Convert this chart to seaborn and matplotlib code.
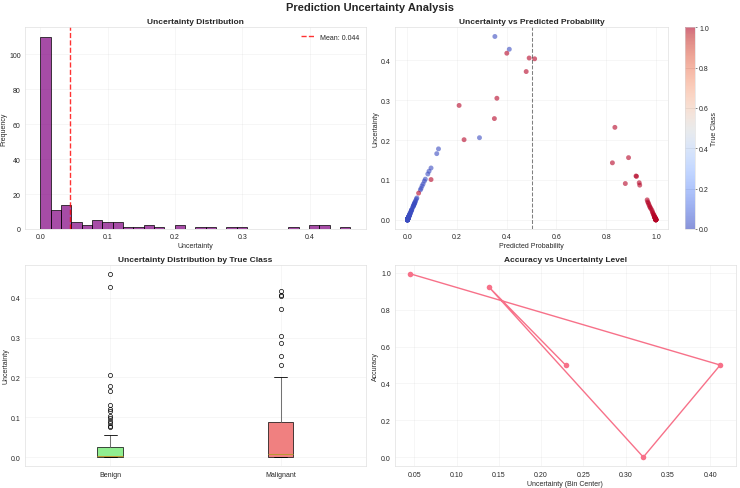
import numpy as np
import pandas as pd
import matplotlib
matplotlib.use("Agg")
import matplotlib.pyplot as plt
import seaborn as sns

# ---------------- data ----------------
benign_prob = [0.352, 0.410, 0.290, 0.125, 0.118, 0.095, 0.087, 0.082, 0.072, 0.068,
               0.063, 0.059, 0.055, 0.052,
               0.038, 0.036, 0.033,
               0.031, 0.030, 0.028, 0.028, 0.026, 0.025, 0.024, 0.023, 0.021,
               0.018, 0.017, 0.016, 0.015, 0.014, 0.012, 0.011,
               0.0103, 0.0097, 0.0090, 0.0083, 0.0076, 0.0069, 0.0069, 0.0062, 0.0055, 0.0055,
               0.0048, 0.0048, 0.0041, 0.0041, 0.0034, 0.0034, 0.0034, 0.0028, 0.0028, 0.0028,
               0.0024,
               0.0021, 0.0021, 0.0019, 0.0017, 0.0015, 0.0014, 0.0014, 0.0012, 0.0011, 0.0010,
               0.0010, 0.0008, 0.0008, 0.0007, 0.0007, 0.0006, 0.0006, 0.0006, 0.0005, 0.0005,
               0.0004, 0.0004, 0.0003, 0.0003, 0.0003, 0.0003, 0.0003, 0.0003, 0.0002, 0.0002,
               0.0002, 0.0001, 0.0001, 0.0001, 0.0001, 0.0001, 0.0001, 0.0001, 0.0001, 0.0001,
               0.0001, 0.0, 0.0, 0.0, 0.0, 0.0, 0.0, 0.0, 0.0, 0.0, 0.0, 0.0, 0.0]
benign_unc = [0.460, 0.428, 0.206, 0.178, 0.166, 0.130, 0.122, 0.115, 0.102, 0.097,
              0.090, 0.085, 0.079, 0.075,
              0.055, 0.052, 0.048,
              0.045, 0.043, 0.041, 0.040, 0.038, 0.036, 0.035, 0.033, 0.031,
              0.026, 0.025, 0.024, 0.022, 0.020, 0.018, 0.016,
              0.015, 0.014, 0.013, 0.012, 0.011, 0.010, 0.010, 0.009, 0.008, 0.008,
              0.007, 0.007, 0.006, 0.006, 0.005, 0.005, 0.005, 0.004, 0.004, 0.004,
              0.0035,
              0.003, 0.003, 0.0028, 0.0025, 0.0022, 0.002, 0.002, 0.0018, 0.0016, 0.0015,
              0.0014, 0.0012, 0.0011, 0.001, 0.001, 0.0009, 0.0008, 0.0008, 0.0007, 0.0007,
              0.0006, 0.0006, 0.0005, 0.0005, 0.0005, 0.0004, 0.0004, 0.0004, 0.0003, 0.0003,
              0.0003, 0.0002, 0.0002, 0.0002, 0.0002, 0.0001, 0.0001, 0.0001, 0.0001, 0.0001,
              0.0001, 0.0, 0.0, 0.0, 0.0, 0.0, 0.0, 0.0, 0.0, 0.0, 0.0, 0.0, 0.0]
malignant_prob = [0.400, 0.490, 0.512, 0.478, 0.360, 0.208, 0.350, 0.835, 0.228, 0.890,
                  0.825, 0.920, 0.922, 0.095, 0.933, 0.877, 0.935, 0.045,
                  0.965, 0.967, 0.970, 0.972, 0.975, 0.977, 0.980, 0.984, 0.986, 0.988,
                  0.990, 0.992, 0.993, 0.994, 0.995, 0.996,
                  0.9967, 0.9967, 0.9973, 0.9973, 0.9973, 0.998, 0.998, 0.998, 0.9987, 0.9987,
                  0.9987, 0.9987, 0.9993, 0.9993, 0.9993, 0.9993, 0.9993, 0.9995, 0.9996, 0.9997,
                  0.9997, 0.9998, 0.9999, 0.9999, 0.9999, 0.9999, 1.0, 1.0, 1.0, 1.0]
malignant_unc = [0.418, 0.406, 0.404, 0.372, 0.305, 0.287, 0.254, 0.232, 0.201, 0.156,
                 0.143, 0.110, 0.109, 0.101, 0.093, 0.091, 0.087, 0.067,
                 0.050, 0.045, 0.042, 0.038, 0.034, 0.031, 0.028, 0.024, 0.020, 0.017,
                 0.014, 0.012, 0.010, 0.008, 0.007, 0.006,
                 0.005, 0.005, 0.004, 0.004, 0.004, 0.003, 0.003, 0.003, 0.002, 0.002,
                 0.002, 0.002, 0.001, 0.001, 0.001, 0.001, 0.001, 0.0008, 0.0006, 0.0005,
                 0.0004, 0.0003, 0.0002, 0.0002, 0.0001, 0.0001, 0.0, 0.0, 0.0, 0.0]
class_names = ["Benign", "Malignant"]

bin_centers = [0.0455, 0.412, 0.321, 0.138, 0.229]
bin_accuracy = [0.995, 0.5, 0.0, 0.925, 0.5]

# ---------------- style ----------------
sns.set_style("whitegrid")
sns.set_palette("husl")
plt.rcParams["font.family"] = ["Liberation Sans", "DejaVu Sans"]
plt.rcParams["axes.edgecolor"] = "0.85"
plt.rcParams["ytick.major.pad"] = 2.5
plt.rcParams["xtick.major.pad"] = 3.0
plt.rcParams["axes.labelpad"] = 2.5

df = pd.DataFrame({
    "prob": benign_prob + malignant_prob,
    "unc": benign_unc + malignant_unc,
    "cls": [0] * len(benign_prob) + [1] * len(malignant_prob),
})
df["label"] = [class_names[c] for c in df["cls"]]
line_df = pd.DataFrame({"center": bin_centers, "acc": bin_accuracy})

fig, axes = plt.subplots(2, 2, figsize=(14.8, 9.78), dpi=50)
fig.suptitle("Prediction Uncertainty Analysis", fontsize=16, fontweight="bold",
             y=0.993, va="top")

# 1. histogram
ax = axes[0, 0]
sns.histplot(data=df, x="unc", bins=30, color="purple", alpha=0.7,
             edgecolor="black", linewidth=1, ax=ax)
mean_u = df["unc"].mean()
ax.axvline(mean_u, color="red", linestyle="--", linewidth=2, alpha=0.8,
           label=f"Mean: {mean_u:.3f}")
ax.set_title("Uncertainty Distribution", fontsize=12, fontweight="bold")
ax.set_xlabel("Uncertainty")
ax.set_ylabel("Frequency")
ax.legend(loc="upper right", frameon=False)
ax.grid(True, alpha=0.3)

# 2. scatter
ax = axes[0, 1]
sns.scatterplot(data=df, x="prob", y="unc", hue="cls", palette="coolwarm",
                hue_norm=(0, 1), alpha=0.6, s=50, linewidth=0, legend=False, ax=ax)
ax.axvline(0.5, color="black", linestyle="--", alpha=0.5)
ax.set_title("Uncertainty vs Predicted Probability", fontsize=12, fontweight="bold")
ax.set_xlabel("Predicted Probability")
ax.set_ylabel("Uncertainty")
ax.grid(True, alpha=0.3)

# 3. boxplot
ax = axes[1, 0]
sns.boxplot(data=df, x="label", y="unc", hue="label", order=class_names,
            palette=["lightgreen", "lightcoral"], saturation=1, width=0.15,
            linecolor="black", linewidth=1, legend=False,
            medianprops={"color": sns.color_palette("husl")[1], "linewidth": 1.5},
            whiskerprops={"color": "0.45", "linewidth": 1.5},
            capprops={"color": "black", "linewidth": 1.2},
            flierprops={"marker": "o", "markerfacecolor": "none",
                        "markeredgecolor": "black", "markersize": 6}, ax=ax)
ax.set_title("Uncertainty Distribution by True Class", fontsize=12, fontweight="bold")
ax.set_xlabel("")
ax.set_ylabel("Uncertainty")
ax.grid(True, alpha=0.3)

# 4. accuracy vs uncertainty
ax = axes[1, 1]
sns.lineplot(data=line_df, x="center", y="acc", sort=False, marker="o",
             markersize=8, linewidth=2, markeredgewidth=0, ax=ax)
ax.set_title("Accuracy vs Uncertainty Level", fontsize=12, fontweight="bold")
ax.set_xlabel("Uncertainty (Bin Center)")
ax.set_ylabel("Accuracy")
ax.grid(True, alpha=0.3)

axes[0, 0].set_position([0.0338, 0.5297, 0.4604, 0.4124])
axes[0, 1].set_position([0.5338, 0.5297, 0.3693, 0.4124])
axes[1, 0].set_position([0.0338, 0.0444, 0.4604, 0.4122])
axes[1, 1].set_position([0.5338, 0.0444, 0.4604, 0.4122])
cax = fig.add_axes([0.9257, 0.5297, 0.0135, 0.4124])
sm = plt.cm.ScalarMappable(cmap="coolwarm", norm=plt.Normalize(0, 1))
cbar = fig.colorbar(sm, cax=cax, alpha=0.6)
cbar.set_label("True Class")
cbar.outline.set_edgecolor("0.85")

fig.savefig("out.png", dpi=50)
